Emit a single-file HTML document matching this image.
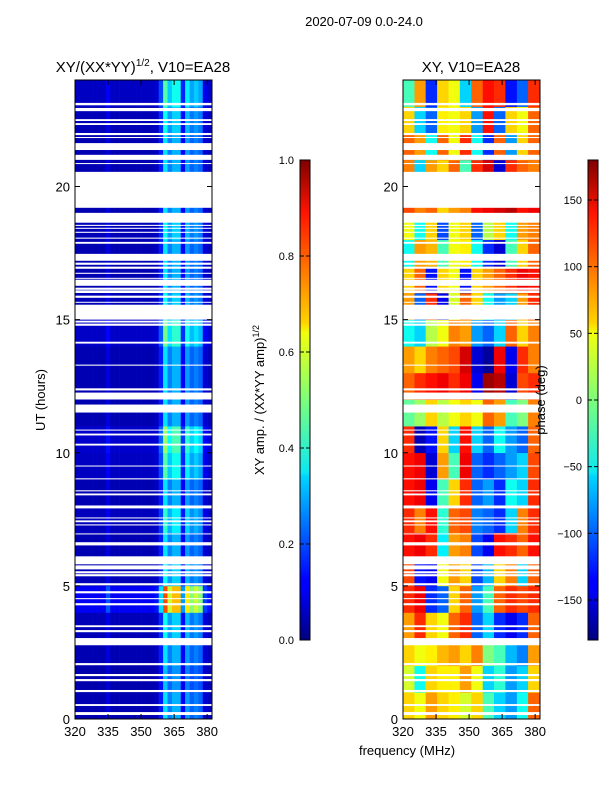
<!DOCTYPE html>
<html><head><meta charset="utf-8">
<style>
html,body{margin:0;padding:0;background:#fff;}
svg{display:block;font-family:"Liberation Sans",sans-serif;}
</style></head>
<body>
<svg id="fig" width="600" height="800" viewBox="0 0 600 800" xmlns="http://www.w3.org/2000/svg">
<defs>
<linearGradient id="jet" x1="0" y1="1" x2="0" y2="0">
<stop offset="0" stop-color="#00007f"/><stop offset="0.11" stop-color="#0000ff"/><stop offset="0.125" stop-color="#0000ff"/>
<stop offset="0.34" stop-color="#00d4ff"/><stop offset="0.35" stop-color="#0de8f2"/><stop offset="0.5" stop-color="#7dff7a"/>
<stop offset="0.64" stop-color="#f2ff0d"/><stop offset="0.66" stop-color="#ffd400"/><stop offset="0.89" stop-color="#ff1400"/>
<stop offset="1" stop-color="#7f0000"/>
</linearGradient>
</defs>
<text x="364" y="26" font-size="13" text-anchor="middle">2020-07-09 0.0-24.0</text>
<text x="143" y="72" font-size="15" text-anchor="middle">XY/(XX*YY)<tspan font-size="10" dy="-6">1/2</tspan><tspan dy="6">, V10=EA28</tspan></text>
<text x="471" y="72" font-size="15" text-anchor="middle">XY, V10=EA28</text>
<text x="0" y="0" font-size="13" text-anchor="middle" transform="translate(45,400) rotate(-90)">UT (hours)</text>
<text x="407" y="755" font-size="13" text-anchor="middle">frequency (MHz)</text>
<text x="0" y="0" font-size="13" text-anchor="middle" transform="translate(264,400) rotate(-90)">XY amp. / (XX*YY amp)<tspan font-size="9" dy="-5">1/2</tspan></text>
<g id="left"></g>
<g id="right"></g>
<g id="cb1">
<rect x="300" y="160" width="10" height="480" fill="url(#jet)" stroke="#000" stroke-width="1"/>
</g>
<g id="cb2">
<rect x="588" y="160" width="10" height="480" fill="url(#jet)" stroke="#000" stroke-width="1"/>
</g>
<text x="0" y="0" font-size="13" text-anchor="middle" transform="translate(545,400) rotate(-90)">phase (deg)</text>
</svg>
<script>
const ampFreqBins=[320,322,324,326,328,330,332,334,336,338,340,342,344,346,348,350,352,354,356,358,360,362,364,366,368,370,372,374,376,378,380];
const ampColumnProfile=[0.05,0.05,0.05,0.05,0.05,0.05,0.05,0.09,0.05,0.05,0.05,0.05,0.05,0.05,0.05,0.05,0.05,0.05,0.06,0.15,0.35,0.25,0.3,0.3,0.12,0.28,0.22,0.25,0.22,0.08,0.06];
const ampHourScale=[1,0.9,1,1.1,2.3,1.1,1,1.2,1,1.3,1.5,1,1,1,1.4,1.1,1,1,1.1,1,1,1,1.1,1.3];
const phaseFreqBins=[320,325.2,330.3,335.5,340.7,345.8,351,356.2,361.3,366.5,371.7,376.8];
const phaseGrid=[
[60,40,80,60,50,30,60,-20,-60,-80,-40,100],
[30,-40,60,50,50,80,40,-60,-30,-80,-60,60],
[60,40,50,70,80,60,90,0,-20,-70,-90,80],
[80,120,60,40,100,120,-100,-60,-120,-140,-120,100],
[120,140,-120,-100,60,100,-80,-20,100,120,110,120],
[110,-130,-140,40,80,60,-110,-70,60,90,-60,100],
[130,140,120,-50,80,90,-110,-140,130,120,100,130],
[120,90,130,-30,100,110,-90,-100,-120,-60,90,120],
[130,140,-140,-20,60,120,-100,-80,-120,-40,-60,120],
[130,140,-150,80,-20,140,-100,-120,-100,-80,-60,110],
[120,-160,-130,60,-60,130,-60,-100,-40,-80,-100,100],
[-10,10,60,20,40,60,40,100,80,-20,0,90],
[100,120,130,140,120,140,-140,170,160,-150,110,120],
[80,60,90,100,110,150,-150,-170,140,-140,120,90],
[-40,-60,20,40,90,80,-80,-100,-60,100,60,90],
[80,-100,120,-140,30,100,60,-40,-80,-60,80,120],
[60,100,-130,60,40,-130,60,80,100,120,140,130],
[-40,80,70,-20,40,50,-40,-120,-150,-20,60,100],
[40,-40,60,-110,40,60,-100,20,60,-40,80,90],
[110,90,100,60,80,90,130,140,150,160,130,140],
[90,-60,80,60,100,-20,120,150,-150,120,100,90],
[100,80,-40,100,40,120,-40,-120,100,-80,60,100],
[60,-60,-100,50,40,60,-80,130,-100,60,40,100],
[-20,80,-120,60,40,-60,100,130,120,-130,-100,120]];
const flaggedRanges=[[23.05,23.14],[22.83,22.95],[22.46,22.53],[22.31,22.38],[21.93,22.01],[21.82,21.86],[21.37,21.63],[21.0,21.19],[20.85,20.88],[19.2,20.55],[18.64,19.01],[18.52,18.56],[18.41,18.45],[18.26,18.3],[18.04,18.08],[17.85,17.92],[17.21,17.47],[17.06,17.14],[16.91,16.99],[16.72,16.76],[16.54,16.57],[16.27,16.5],[16.12,16.2],[16.0,16.1],[15.82,15.9],[15.64,15.67],[15.0,15.56],[14.89,14.96],[14.77,14.85],[14.1,14.17],[13.27,13.31],[12.34,12.42],[12.0,12.26],[11.51,11.81],[10.84,10.87],[10.65,10.72],[10.27,10.34],[9.49,9.52],[9.0,9.04],[8.55,8.59],[8.4,8.47],[7.91,8.02],[7.54,7.57],[7.39,7.46],[7.27,7.31],[6.94,6.97],[6.52,6.64],[5.81,6.11],[5.62,5.77],[5.47,5.55],[5.36,5.44],[5.02,5.1],[4.72,4.8],[4.5,4.54],[4.27,4.35],[3.45,3.52],[3.26,3.34],[2.77,3.04],[2.02,2.1],[1.61,1.69],[1.42,1.5],[1.01,1.09],[0.49,0.56],[0.15,0.26]];
const xTicks=[320,335,350,365,380];
const yTicks=[0,5,10,15,20];
const ampTicks=[0.0,0.2,0.4,0.6,0.8,1.0];
const phaseTicks=[-150,-100,-50,0,50,100,150];

const NS="http://www.w3.org/2000/svg";
const F0=320,F1=382.2,T0=0,T1=24;
const TOP=80,BOT=719;
function yScale(h){return BOT-(h-T0)/(T1-T0)*(BOT-TOP);}
function xScaleFor(x0,x1){return f=>x0+(f-F0)/(F1-F0)*(x1-x0);}
function jet(v){v=Math.max(0,Math.min(1,v));
 const r=Math.max(0,Math.min(1,Math.min(4*v-1.5,-4*v+4.5)));
 const g=Math.max(0,Math.min(1,Math.min(4*v-0.5,-4*v+3.5)));
 const b=Math.max(0,Math.min(1,Math.min(4*v+0.5,-4*v+2.5)));
 return `rgb(${Math.round(r*255)},${Math.round(g*255)},${Math.round(b*255)})`;}
function mk(tag,attrs,parent){const e=document.createElementNS(NS,tag);for(const k in attrs)e.setAttribute(k,attrs[k]);parent.appendChild(e);return e;}

function drawFrame(g,x0,x1,xs){
 mk('rect',{x:x0,y:TOP,width:x1-x0,height:BOT-TOP,fill:'none',stroke:'#000','stroke-width':1},g);
 xTicks.forEach(t=>{const x=xs(t);
  mk('line',{x1:x,x2:x,y1:BOT,y2:BOT-5,stroke:'#000'},g);
  mk('line',{x1:x,x2:x,y1:TOP,y2:TOP+5,stroke:'#000'},g);
  const tx=mk('text',{x:x,y:BOT+17,'font-size':13,'text-anchor':'middle'},g);tx.textContent=t;
  
  });
 yTicks.forEach(t=>{const y=yScale(t);
  mk('line',{x1:x0,x2:x0+5,y1:y,y2:y,stroke:'#000'},g);
  mk('line',{x1:x1,x2:x1-5,y1:y,y2:y,stroke:'#000'},g);
  const tx=mk('text',{x:x0-5,y:y+5,'font-size':13,'text-anchor':'end'},g);tx.textContent=t;
  
  });
}
function drawGaps(g,x0,x1){
 flaggedRanges.forEach(r=>{const y=yScale(r[1]);const h=yScale(r[0])-y;
  const e=mk('rect',{x:x0,y:y,width:x1-x0,height:Math.max(1,h),fill:'#fff'},g);
  
  });
}
(function(){
 const g=document.getElementById('left');const x0=75,x1=212;const xs=xScaleFor(x0,x1);
 for(let h=0;h<24;h++){for(let c=0;c<ampFreqBins.length;c++){
  const f=ampFreqBins[c],fn=c+1<ampFreqBins.length?ampFreqBins[c+1]:F1;
  const v=ampColumnProfile[c]*ampHourScale[h];
  const xa=xs(f),xb=xs(fn),ya=yScale(h+1),yb=yScale(h);
  const e=mk('rect',{x:xa,y:ya,width:xb-xa+0.3,height:yb-ya+0.3,fill:jet(v)},g);
  
  }}
 drawGaps(g,x0,x1);drawFrame(g,x0,x1,xs);
})();
(function(){
 const g=document.getElementById('right');const x0=403,x1=540;const xs=xScaleFor(x0,x1);
 for(let h=0;h<24;h++){for(let c=0;c<phaseFreqBins.length;c++){
  const f=phaseFreqBins[c],fn=c+1<phaseFreqBins.length?phaseFreqBins[c+1]:F1;
  const v=(phaseGrid[h][c]+180)/360;
  const xa=xs(f),xb=xs(fn),ya=yScale(h+1),yb=yScale(h);
  const e=mk('rect',{x:xa,y:ya,width:xb-xa+0.3,height:yb-ya+0.3,fill:jet(v)},g);
  
  }}
 drawGaps(g,x0,x1);drawFrame(g,x0,x1,xs);
})();
function cbTicks(g,x,ticks,lo,hi,fmt){
 ticks.forEach(t=>{const y=640-(t-lo)/(hi-lo)*480;
  mk('line',{x1:x,x2:x+4,y1:y,y2:y,stroke:'#000'},g);
  mk('line',{x1:x+10,x2:x+6,y1:y,y2:y,stroke:'#000'},g);
  const tx=mk('text',{x:x-6,y:y+4,'font-size':11,'text-anchor':'end'},g);tx.textContent=fmt(t);
  
  });
}
cbTicks(document.getElementById('cb1'),300,ampTicks,0,1,t=>t.toFixed(1));
cbTicks(document.getElementById('cb2'),588,phaseTicks,-180,180,t=>t<0?'\u2212'+(-t):''+t);
</script>
</body></html>
